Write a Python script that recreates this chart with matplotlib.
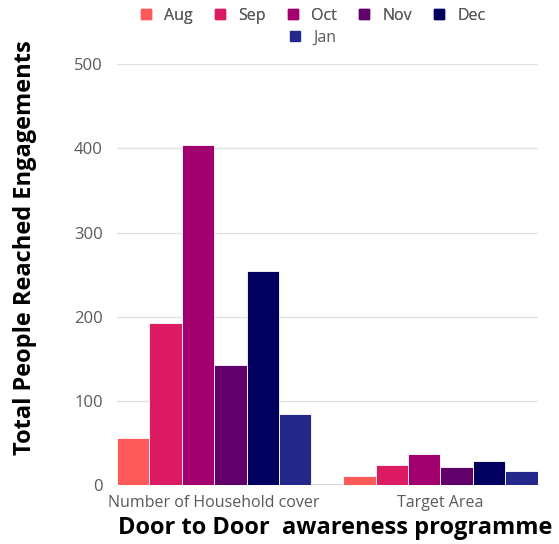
import matplotlib.pyplot as plt
import numpy as np
from matplotlib.lines import Line2D

plt.rcParams["font.family"] = ["Open Sans", "DejaVu Sans"]

# Door to door awareness programme, by month
categories = ["Number of Household cover", "Target Area"]
months = ["Aug", "Sep", "Oct", "Nov", "Dec", "Jan"]
values = {
    "Aug": [56, 11],
    "Sep": [193, 24],
    "Oct": [404, 37],
    "Nov": [143, 21],
    "Dec": [254, 28],
    "Jan": [84, 17],
}
colors = ["#ff5a5a", "#dc1b63", "#a2006e", "#62006b", "#02005f", "#24288a"]
yticks = [0, 100, 200, 300, 400, 500]

fg = plt.figure(figsize=(5.59, 5.44), dpi=100)
ax = fg.add_axes([0.209, 0.1085, 0.753, 0.7735])

x = np.arange(len(categories))
group_w = 0.86
bar_w = group_w / len(months)

for i, (m, c) in enumerate(zip(months, colors)):
    offs = -group_w / 2 + bar_w * (i + 0.5)
    ax.bar(x + offs, values[m], width=bar_w, color=c, edgecolor="white",
           linewidth=0.6, label=m, zorder=3)

ax.set_xlim(-0.43, 1.43)
ax.set_ylim(0, 500)
ax.set_yticks(yticks)
ax.set_xticks(x)
ax.set_xticklabels(categories)
ax.tick_params(length=0, labelsize=11.5, colors="#5a5a5a", pad=7)
ax.tick_params(axis="y", labelsize=12, pad=10)
ax.grid(axis="y", color="#e2e2e2", linewidth=1, zorder=0)
ax.axhline(0, color="#cccccc", linewidth=1.2, zorder=2)
for s in ax.spines.values():
    s.set_visible(False)

fg.text(118 / 559, 1 - 528 / 544, "Door to Door  awareness programme",
        fontsize=17, fontweight="bold", ha="left", va="center")
fg.text(25 / 559, 1 - 248 / 544, "Total People Reached Engagements",
        fontsize=17, fontweight="bold", rotation=90, ha="center", va="center")

# legend: five months in the first row, January on its own row below
handles = [Line2D([], [], marker="s", linestyle="", markersize=7, color=c)
           for c in colors]
leg_kw = dict(frameon=False, fontsize=11.5, handlelength=0.7, handletextpad=0.8,
              columnspacing=1.35, labelcolor="#5a5a5a", borderaxespad=0)
leg1 = fg.legend(handles[:5], months[:5], ncol=5, loc="center",
                 bbox_to_anchor=(0.56, 1 - 16 / 544), **leg_kw)
fg.legend(handles[5:], months[5:], ncol=1, loc="center",
          bbox_to_anchor=(0.56, 1 - 38 / 544), **leg_kw)
fg.add_artist(leg1)

fg.savefig("out.png", dpi=100)
